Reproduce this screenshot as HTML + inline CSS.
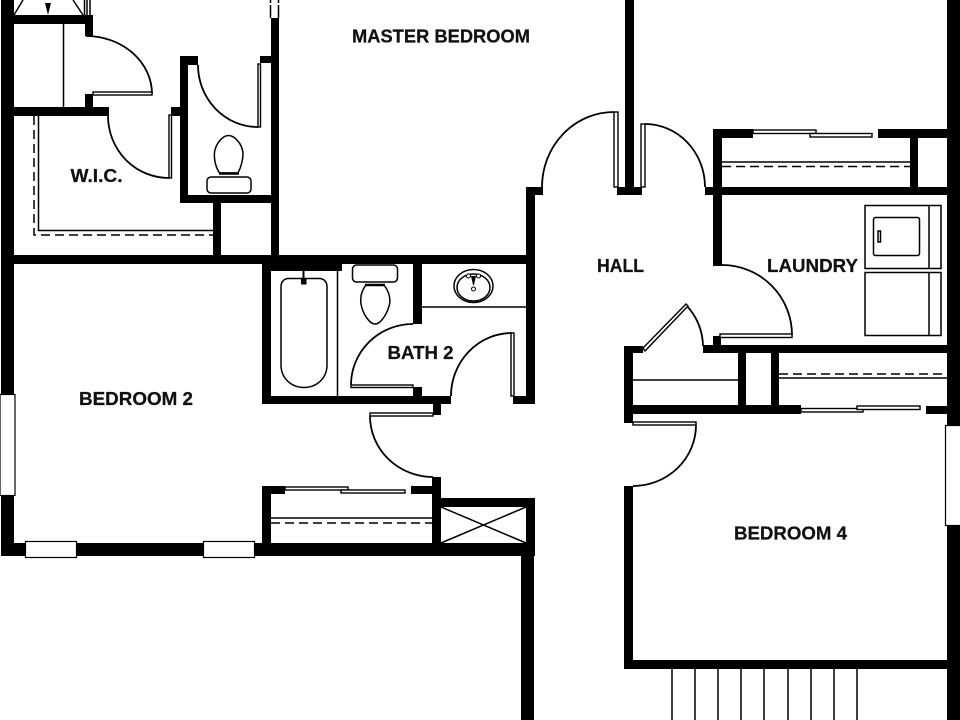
<!DOCTYPE html>
<html><head><meta charset="utf-8"><style>
html,body{margin:0;padding:0;background:#fff}
svg{display:block}
text{font-family:"Liberation Sans",sans-serif;font-weight:bold;font-size:18px;fill:#111;stroke:#111;stroke-width:.25}
.t{fill:none;stroke:#000;stroke-width:1.5}
.a{fill:none;stroke:#000;stroke-width:1.8}
.l{fill:#fff;stroke:#000;stroke-width:1.4}
.d{fill:none;stroke:#000;stroke-width:1.5;stroke-dasharray:9 5}
.w{fill:#fff;stroke:#000;stroke-width:1.2}
</style></head><body>
<svg width="960" height="720" viewBox="0 0 960 720" xmlns="http://www.w3.org/2000/svg">
<rect width="960" height="720" fill="#fff"/>
<g fill="#000">
<rect x="1" y="0" width="13" height="394"/>
<rect x="1" y="495" width="13" height="61"/>
<rect x="14" y="15" width="79" height="9"/>
<rect x="85" y="15" width="8" height="21"/>
<rect x="85" y="94" width="8" height="14"/>
<rect x="14" y="107" width="95" height="9"/>
<rect x="171" y="107" width="10" height="9"/>
<rect x="180" y="56" width="8" height="147"/>
<rect x="180" y="56" width="18" height="9"/>
<rect x="180" y="195" width="91" height="8"/>
<rect x="213" y="203" width="8" height="52"/>
<rect x="271" y="18" width="8" height="237"/>
<rect x="260" y="56" width="11" height="7"/>
<rect x="1" y="255" width="534" height="9"/>
<rect x="262" y="264" width="80" height="7"/>
<rect x="262" y="264" width="9" height="140"/>
<rect x="262" y="396" width="189" height="8"/>
<rect x="413" y="264" width="9" height="60"/>
<rect x="413" y="387" width="9" height="9"/>
<rect x="526" y="195" width="9" height="209"/>
<rect x="526" y="187" width="17" height="8"/>
<rect x="513" y="396" width="22" height="8"/>
<rect x="433" y="404" width="8" height="11"/>
<rect x="432" y="477" width="9" height="67"/>
<rect x="262" y="486" width="23" height="8"/>
<rect x="411" y="486" width="22" height="8"/>
<rect x="262" y="486" width="9" height="58"/>
<rect x="441" y="498" width="94" height="9"/>
<rect x="526" y="498" width="9" height="58"/>
<rect x="1" y="543" width="534" height="13"/>
<rect x="521" y="556" width="13" height="164"/>
<rect x="625" y="0" width="9" height="195"/>
<rect x="617" y="187" width="25" height="8"/>
<rect x="705" y="187" width="255" height="8"/>
<rect x="713" y="129" width="9" height="137"/>
<rect x="713" y="129" width="40" height="9"/>
<rect x="878" y="129" width="69" height="9"/>
<rect x="910" y="138" width="8" height="49"/>
<rect x="947" y="0" width="13" height="425"/>
<rect x="947" y="526" width="13" height="194"/>
<rect x="713" y="336" width="8" height="9"/>
<rect x="703" y="345" width="257" height="8"/>
<rect x="624" y="346" width="19" height="7"/>
<rect x="624" y="346" width="9" height="77"/>
<rect x="633" y="405" width="168" height="9"/>
<rect x="738" y="353" width="8" height="52"/>
<rect x="771" y="353" width="8" height="52"/>
<rect x="926" y="406" width="21" height="8"/>
<rect x="624" y="486" width="9" height="183"/>
<rect x="624" y="660" width="336" height="9"/>
</g>
<path class="t" d="M63.5 24V107M14 15L23 0M83 15L73 0M84.5 0V15M87 0V15M90 0V15"/>
<polygon points="45,3 51,3 48,15" fill="#000"/>
<path class="t" d="M38.5 116V230.5H213"/>
<path class="d" d="M34 116V235H213"/>
<path class="t" d="M337.5 264V396M422 307H526"/>
<path class="t" d="M271 518H432"/>
<path class="d" d="M271 523H432"/>
<path class="t" d="M441 507L526 543M441 543L526 507"/>
<path class="t" d="M722 162H910"/>
<path class="d" d="M722 166.5H910"/>
<path class="d" d="M779 374H947"/>
<path class="t" d="M779 378H947M633 380H738"/>
<path class="t" d="M672 669V720M695 669V720M718 669V720M741 669V720M764 669V720M788 669V720M811 669V720M834 669V720M857 669V720"/>
<path class="a" d="M86 36A66 58 0 0 1 152 94"/>
<path class="a" d="M108 116A61 62 0 0 0 169 178"/>
<path class="a" d="M198 65A60 62 0 0 0 258 127"/>
<path class="a" d="M413 324A62 61 0 0 0 351 385"/>
<path class="a" d="M451 396A61 63 0 0 1 512 333"/>
<path class="a" d="M370 416A63 61 0 0 0 433 477"/>
<path class="a" d="M542 187A72 75 0 0 1 614 112"/>
<path class="a" d="M645 124A60 63 0 0 1 705 187"/>
<path class="a" d="M722 265A70 70 0 0 1 792 335"/>
<path class="a" d="M686 305A60 60 0 0 1 703 346"/>
<path class="a" d="M696 425A63 61 0 0 1 633 486"/>
<rect class="l" x="93" y="92" width="59" height="3"/>
<rect class="l" x="169" y="115" width="2.5" height="63"/>
<rect class="l" x="258" y="64" width="2.5" height="63"/>
<rect class="l" x="351" y="385" width="62" height="2.5"/>
<rect class="l" x="511" y="333" width="3" height="63"/>
<rect class="l" x="370" y="413" width="63" height="3"/>
<rect class="l" x="614" y="112" width="4" height="75"/>
<rect class="l" x="641" y="124" width="4" height="63"/>
<rect class="l" x="720" y="334" width="72" height="3.5"/>
<polygon class="l" points="643,348 686,304 688,306 645,351"/>
<rect class="l" x="633" y="422" width="63" height="3"/>
<rect class="l" x="285" y="487" width="63" height="3"/>
<rect class="l" x="341" y="490" width="64" height="3"/>
<rect class="l" x="753" y="130" width="63" height="3.5"/>
<rect class="l" x="810" y="133.5" width="62" height="3.5"/>
<rect class="l" x="801" y="408.5" width="62" height="3.5"/>
<rect class="l" x="857" y="406" width="63" height="3.5"/>
<rect class="w" x="25.5" y="541.5" width="51" height="16"/>
<rect class="w" x="203.5" y="541.5" width="51" height="16"/>
<rect class="w" x="0" y="394.5" width="15" height="101"/>
<rect class="w" x="945.5" y="425.5" width="16" height="100"/>
<path class="t" d="M270.5 5V18M278.5 5V18M270.5 0V3M278.5 0V3"/>
<rect class="t" x="207" y="177" width="44" height="16" rx="4"/>
<path class="t" d="M219.5 173C215 166 214 159 214.5 152C216 143 223 135.5 228.5 135.5C234 135.5 242 143 243 153C243 160 241 167 238 173Z"/>
<path d="M219 173.5H239" stroke="#000" stroke-width="2.5"/>
<rect class="t" x="352.5" y="265" width="45" height="17" rx="4"/>
<path class="t" d="M366 285C362 290 360 297 361 304C363 315 370 324 375 324C381 324 388 313 390 302C390 295 388 290 384 285Z"/>
<path d="M365 285H385" stroke="#000" stroke-width="2.5"/>
<path class="t" d="M288.5 278.500H319C324 278.500 327 282 327 286.500V365C327 378 317 387.500 304 387.500C291 387.500 281 378 281 365V286.500C281 282 284 278.500 288.500 278.500Z"/>
<rect x="301" y="279" width="5.500" height="5.500" fill="#000"/>
<rect x="302.500" y="271" width="2" height="9" fill="#000"/>
<ellipse class="t" cx="473.500" cy="286" rx="19.500" ry="16.500"/>
<ellipse class="t" cx="473.500" cy="287.500" rx="16.500" ry="13.500"/>
<circle cx="468.500" cy="276" r="2" fill="#fff" stroke="#000"/>
<circle cx="478.500" cy="276" r="2" fill="#fff" stroke="#000"/>
<polygon points="471,276 476,276 474,285 473,285" fill="#000"/>
<circle cx="473.500" cy="289" r="2" fill="#fff" stroke="#000"/>
<rect class="t" x="865" y="205.500" width="76" height="63"/>
<path class="t" d="M929 205.500V268.500"/>
<rect class="t" x="873.500" y="217.500" width="46" height="38" rx="2"/>
<rect class="t" x="878" y="231" width="2.500" height="11"/>
<rect class="t" x="865" y="272.500" width="76" height="63"/>
<path class="t" d="M929 272.500V335.500"/>
<text x="352" y="42.500" textLength="178" lengthAdjust="spacingAndGlyphs">MASTER BEDROOM</text>
<text x="70.500" y="182" textLength="52" lengthAdjust="spacingAndGlyphs">W.I.C.</text>
<text x="387.500" y="359" textLength="66" lengthAdjust="spacingAndGlyphs">BATH 2</text>
<text x="79" y="405" textLength="114" lengthAdjust="spacingAndGlyphs">BEDROOM 2</text>
<text x="597" y="272" textLength="47" lengthAdjust="spacingAndGlyphs">HALL</text>
<text x="767" y="272" textLength="91" lengthAdjust="spacingAndGlyphs">LAUNDRY</text>
<text x="734" y="539.500" textLength="113" lengthAdjust="spacingAndGlyphs">BEDROOM 4</text>
</svg>
</body></html>
